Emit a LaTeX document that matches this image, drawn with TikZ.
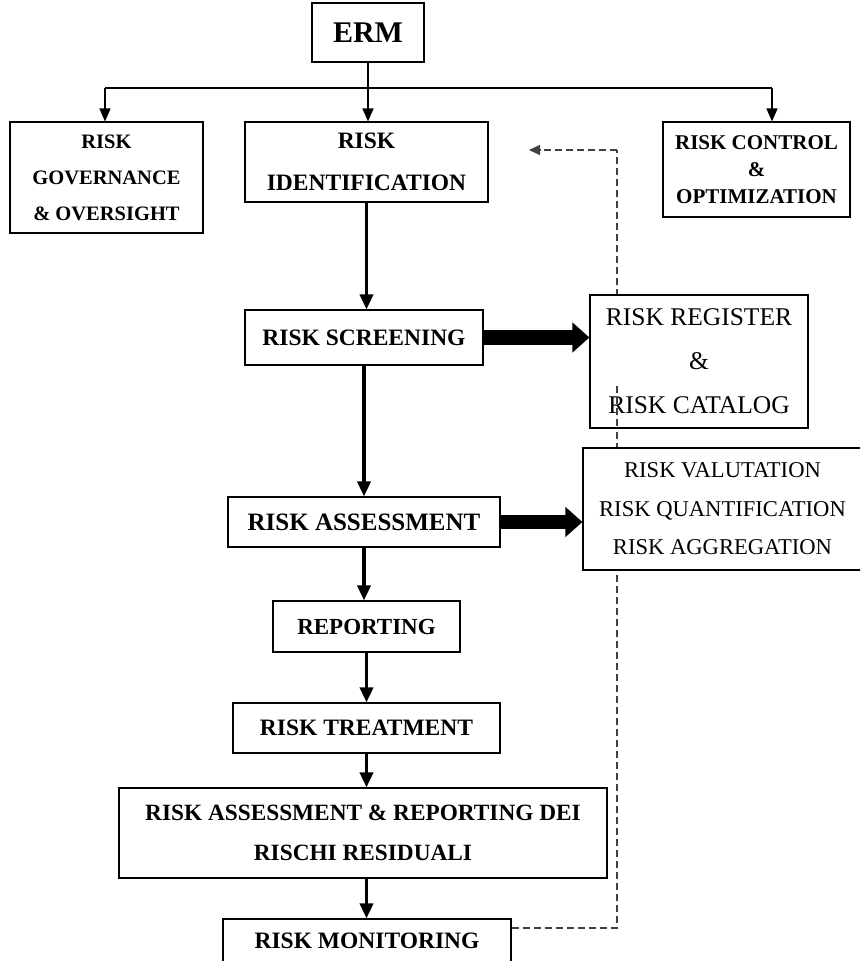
\documentclass[tikz,border=0pt]{standalone}
\usepackage{fontspec}
\setmainfont{Liberation Serif}
\usetikzlibrary{arrows.meta}

\newcommand{\bsize}[2]{\bfseries\fontsize{#1}{#2}\selectfont}
\newcommand{\rsize}[2]{\fontsize{#1}{#2}\selectfont}

\begin{document}
\begin{tikzpicture}[x=1pt,y=-1pt,
  box/.style={draw, line width=1.1pt, fill=white, inner sep=0pt, align=center,
    font=\bsize{20.5}{36}},
  thinarrow/.style={line width=1.4pt, -{Triangle[length=13pt,width=11pt]}},
  flowarrow/.style={line width=3.5pt, -{Triangle[length=15pt,width=13pt]}},
  blockarrow/.style={line width=14.5pt, -{Triangle[length=17pt,width=29pt]}},
  feedback/.style={line width=1.2pt, draw=black!75, dash pattern=on 7pt off 4pt},
  feedbacktip/.style={feedback, -{Triangle[length=11pt,width=10pt]}}
]
\clip (0,0) rectangle (860,961);
\fill[white] (0,0) rectangle (860,961);

% points of the monitoring feedback loop
\coordinate (fbC) at (617,928);
\coordinate (fbT) at (617,150);
\coordinate (fbTip) at (529,150);

% top level
\node[box, minimum width=112pt, minimum height=59pt, font=\bsize{30}{36}] (erm) at (368,32.5) {ERM};
\node[box, minimum width=193pt, minimum height=111pt] (gov) at (106.5,177.5) {RISK\\GOVERNANCE\\\& OVERSIGHT};
\node[box, minimum width=243pt, minimum height=80pt, font=\bsize{23.5}{42}] (idn) at (366.5,162) {RISK\\IDENTIFICATION};
\node[box, minimum width=187pt, minimum height=95pt, font=\bsize{21}{27}] (ctl) at (756.5,169.5) {RISK CONTROL\\\&\\OPTIMIZATION};

% process chain
\node[box, minimum width=238pt, minimum height=55pt, font=\bsize{23.5}{36}] (scr) at (364,337.5) {RISK SCREENING};
\node[box, minimum width=272pt, minimum height=50pt, font=\bsize{25}{36}] (asm) at (364,522) {RISK ASSESSMENT};
\node[box, minimum width=187pt, minimum height=51pt, font=\bsize{23}{36}] (rep) at (366.5,626.5) {REPORTING};
\node[box, minimum width=267pt, minimum height=50pt, font=\bsize{23.5}{36}] (tre) at (366.5,728) {RISK TREATMENT};
\node[box, minimum width=488pt, minimum height=90pt, font=\bsize{23.3}{40}] (res) at (363,833) {RISK ASSESSMENT \& REPORTING DEI\\RISCHI RESIDUALI};
\node[box, minimum width=288pt, minimum height=44pt, font=\bsize{23.5}{36}] (mon) at (367,941) {RISK MONITORING};

% feedback loop from monitoring back up to identification
\draw[feedback] (fbC -| mon.east) -- (fbC) -- (fbT);
\draw[feedbacktip] (fbT) -- (fbTip);

% outputs, drawn over the loop
\node[box, minimum width=218pt, minimum height=133pt, font=\rsize{25.5}{44}] (reg) at (699,361.5) {RISK REGISTER\\\&\\RISK CATALOG};
\node[box, minimum width=279pt, minimum height=122pt, font=\rsize{22.6}{38.5}] (val) at (722.5,509) {RISK VALUTATION\\RISK QUANTIFICATION\\RISK AGGREGATION};
% stretch of the loop that shows across the register box
\draw[feedback] (617,386) -- (fbC |- reg.south);

% distribution from ERM
\coordinate (busL) at (105,88);
\coordinate (busR) at (772,88);
\draw[line width=1.4pt] (busL) -- (busR);
\draw[thinarrow] (erm.south) -- (erm.south |- idn.north);
\draw[thinarrow] (busL) -- (busL |- gov.north);
\draw[thinarrow] (busR) -- (busR |- ctl.north);

% main flow
\draw[flowarrow] (idn.south) -- (idn.south |- scr.north);
\draw[flowarrow] (scr.south) -- (scr.south |- asm.north);
\draw[flowarrow] (asm.south) -- (asm.south |- rep.north);
\draw[flowarrow] (rep.south) -- (rep.south |- tre.north);
\draw[flowarrow] (tre.south -| rep.south) -- (res.north -| rep.south);
\draw[flowarrow] (res.south -| rep.south) -- (mon.north -| rep.south);

% block arrows to the outputs
\draw[blockarrow] (scr.east) -- (scr.east -| reg.west);
\draw[blockarrow] (asm.east) -- (asm.east -| val.west);
\end{tikzpicture}
\end{document}
